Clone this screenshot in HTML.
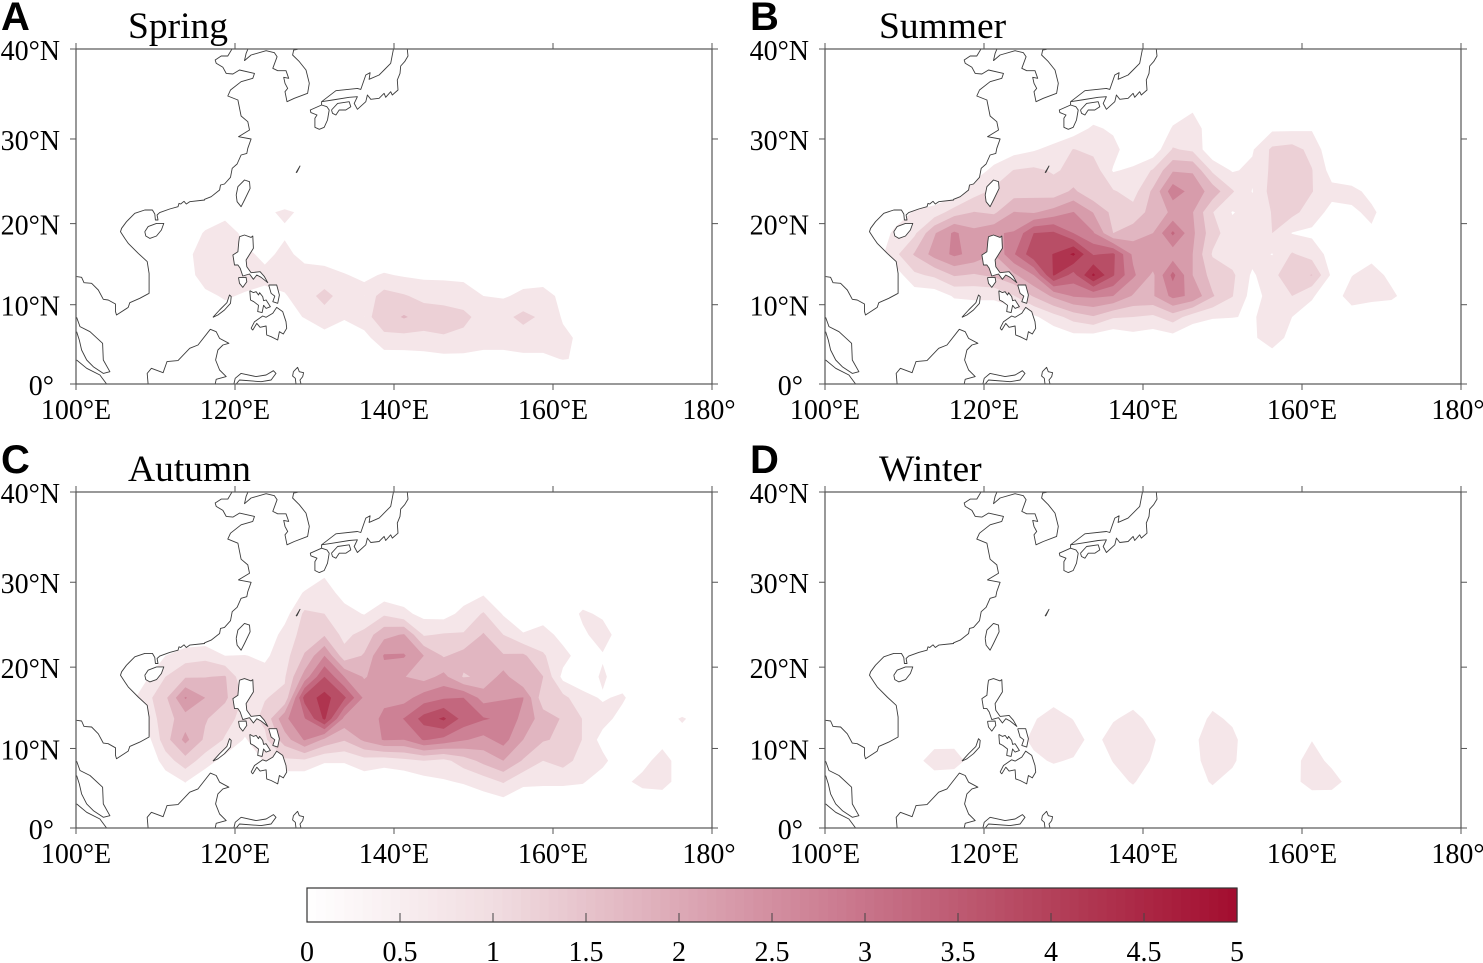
<!DOCTYPE html>
<html lang="en">
<head>
<meta charset="utf-8">
<title>Seasonal maps over the western North Pacific</title>
<style>
html,body{margin:0;padding:0;background:#fff;}
#figure{display:block;width:1483px;height:963px;}
text{font-family:"Liberation Serif",serif;fill:#000;}
.letter{font-family:"Liberation Sans",sans-serif;font-weight:bold;font-size:40px;}
</style>
</head>
<body>
<svg id="figure" xmlns="http://www.w3.org/2000/svg" width="1483" height="963" viewBox="0 0 1483 963"></svg>
<script>
/* ---------- axis data ---------- */
const xTickValues = [100,120,140,160,180];
const xTickLabels = ['100°E','120°E','140°E','160°E','180°'];
const yTickValues = [0,10,20,30,40];
const yTickLabels = ['0°','10°N','20°N','30°N','40°N'];
const colorbarTickValues = [0,0.5,1,1.5,2,2.5,3,3.5,4,4.5,5];
const colorbarTickLabels = ['0','0.5','1','1.5','2','2.5','3','3.5','4','4.5','5'];
const contourLevels = [0.5,1,1.5,2,2.5,3,3.5,4,4.5];

/* ---------- grid coordinates ---------- */
const gridLons = [101.25,103.75,106.25,108.75,111.25,113.75,116.25,118.75,121.25,123.75,126.25,128.75,131.25,133.75,136.25,138.75,141.25,143.75,146.25,148.75,151.25,153.75,156.25,158.75,161.25,163.75,166.25,168.75,171.25,173.75,176.25,178.75];
const gridLats = [38.17,35.91,33.57,31.2,28.79,26.35,23.87,21.37,18.84,16.27,13.69,11.09,8.46,5.83,3.17,0.53];

/* ---------- values, one row per latitude (north to south), one entry per longitude; short rows end in zeros ---------- */
const springValues = [
[],[],[],[],[],[],
[0,0,0,0,0, 0,0,0,0,0, .17],
[0,0,0,0,0, 0,.2,.3,.3,.44, .555,.44,.2],
[0,0,0,0,0, .2,.55,.8,.35,.3, .45,.3,.1],
[0,0,0,0,0, .35,.75,.8,.6,.4, .6,.38,.25,.2,.15, .1],
[0,0,0,0,0, .3,.7,.8,.7,.6, .75,.65,.7,.53,.4, .55,.45,.4,.4,.35, .25,.25,.3,.3,.2],
[0,0,0,0,0, .1,.4,.55,.45,.4, .45,.8,1.15,.8,.7, 1.2,1.05,.85,.8,.8, .5,.45,.6,.65,.4, .1],
[0,0,0,0,0, 0,.1,.3,.3,.3, .35,.52,.8,.55,.85, 1.25,1.55,1.3,1.25,1.1, .85,.85,1.15,.9,.45, .25],
[0,0,0,0,0, 0,0,0,0,0, 0,.2,.3,.2,.3, .9,.85,.85,.95,.9, .7,.7,.75,.75,.6, .4],
[0,0,0,0,0, 0,0,0,0,0, 0,0,0,0,.05, .2,.25,.3,.35,.35, .35,.35,.4,.4,.52, .45,.1],
[]
];
const summerValues = [
[],[],
[0,0,0,0,0, 0,0,0,0,0, 0,0,0,.05,0, 0,0,.2,.42],
[0,0,0,0,0, 0,0,0,0,0, 0,.1,.2,.6,.4, .05,0,.55,.75,.2, 0,.1,.4,.4,.45, .1],
[0,0,0,0,0, 0,0,0,.1,.3, .45,.65,1.02,.85,.7, .1,.15,1.05,.9,.1, 0,.45,1.1,1.2,.85, .1],
[0,0,0,0,0, 0,0,.2,.65,1.02, 1.1,.95,1.1,1.3,.45, .6,1.05,1.95,1.95,.9, .45,.6,1.1,1.45,1.02, .3,.1],
[0,0,0,0,.1, .1,.2,.8,1.1,1.25, 1.3,1.2,1.6,1.1,1.05, .8,1.6,2.8,2.3,1.8, 1.05,.48,1.2,1.4,1.02, .65,.65,.35,.1],
[0,0,0,.2,.55, .7,1.25,1.52,1.4,2.02, 1.95,2.2,2.52,1.98,1.35, 1.2,1.7,2.1,2.02,1.02, .47,.7,1.02,1.15,.75, .35,.42,.6,.2],
[0,0,.1,.6,.9, 1.95,2.6,2.15,2.45,2.55, 3.5,3.6,3.0,2.55,1.5, 1.75,2.0,3.1,2.1,1.2, .7,.7,1.0,.48,.4, .15,.15,.42,.1],
[0,0,.2,.85,1.55, 2.2,2.6,2.35,2.0,2.95, 3.85,4.01,4.6,3.45,3.6, 2.4,2.45,2.2,2.0,.95, .7,.7,.48,1.05,.8, .3,.1,.3],
[0,0,0,.2,.9, 1.1,1.55,1.45,1.6,1.9, 2.5,4.05,3.3,4.6,3.55, 2.6,1.9,3.15,2.0,1.3, 1.1,.42,.85,1.35,1.52, .4,.48,.75,.35,.05],
[0,0,0,0,.2, .2,.55,.6,.6,.98, 1.55,2.1,2.55,2.6,2.5, 1.95,1.95,2.65,2.4,1.55, 1.02,.3,.7,1.0,.55, .2,.75,.7,.62,.2],
[0,0,0,0,0, 0,.1,.1,.1,.05, .4,.8,1.2,1.45,1.05, 1.0,.9,1.25,.75,.55, .52,.45,.7,.5,.3, 0,.2],
[0,0,0,0,0, 0,0,0,0,0, 0,.1,.3,.25,.1, .3,.2,.3,0,0, 0,.4,.8,.3,.1],
[0,0,0,0,0, 0,0,0,0,0, 0,0,0,0,0, 0,0,0,0,0, 0,.1,.2],
[]
];
const autumnValues = [
[],[],[],
[0,0,0,0,0, 0,0,0,0,0, 0,0,.4],
[0,0,0,0,0, 0,0,0,0,0, .1,.55,.75,.3,.1, .2,.25,.1,.1,.25, .42,.1,0,0,0, .1],
[0,0,0,0,0, 0,0,0,0,0, .3,1.1,1.0,.7,.47, .92,.62,.35,.3,.65, 1.05,.45,.1,.2,.1, .6,.4,.1],
[0,0,0,0,.1, .1,.1,.1,0,.1, .7,1.2,1.45,.85,1.2, 1.85,2.05,.95,1.05,1.05, 1.55,1.0,.55,.75,.3, .4,.75,.2],
[0,0,0,.1,.5, .75,.85,.5,.52,.4, .8,1.55,2.5,1.2,1.55, 2.55,2.55,2.0,1.45,1.7, 1.9,1.55,1.6,1.05,.7, .2,.45,.1],
[0,0,0,.4,1.0, 1.45,1.48,1.55,.55,.7, .95,2.2,3.5,2.5,1.95, 2.3,2.02,1.8,2.15,1.45, 1.6,2.2,1.51,1.51,.35, .2,.58,.2],
[0,0,.2,.8,1.4, 2.55,2.0,1.6,.9,.98, 1.1,3.7,4.2,3.6,2.4, 2.35,2.3,2.75,2.95,3.0, 2.3,2.45,2.52,1.2,1.15, .65,.45,.58,.1],
[0,0,0,.6,1.3, 1.75,1.55,1.2,.8,1.1, 2.4,2.95,4.1,2.35,2.1, 2.65,3.02,3.7,4.1,3.3, 3.05,2.9,2.35,1.75,1.45, .98,.7,.3,0,.3, .55,.3],
[0,0,0,.2,1.3, 2.15,1.4,.95,.45,.9, 1.75,2.55,1.9,1.55,2.1, 2.55,2.5,3.05,2.85,2.55, 2.35,2.7,2.0,1.55,1.4, .98,.3,.1,.1,.3, .3],
[0,0,0,0,.75, 1.3,.75,.3,.1,.55, .9,.9,.55,.55,.8, .7,.85,1.0,.85,1.25, 1.65,2.0,1.45,1.0,1.2, .8,.65,.1,.3,.75, .2],
[0,0,0,0,.2, .52,.1,0,0,.1, .1,.1,.1,.1,.2, .1,.1,.3,.45,.55, .75,1.05,.6,.6,.6, .55,.2,.35,.68,.75, .2],
[0,0,0,0,0, .1,0,0,0,0, 0,0,0,0,0, 0,0,0,.05,.1, .2,.3,.2,.1,.1, .05,0,0,.1,.1],
[]
];
const winterValues = [
[],[],[],[],[],[],[],[],[],
[0,0,0,0,0, 0,0,0,0,0, .1,.3,.1,0,.1, .3,.1,0,0,.3, .1],
[0,0,0,0,0, 0,0,0,0,.1, .45,.75,.48,.2,.45, .65,.35,.1,.2,.62, .4,.1],
[0,0,0,0,.05, .3,.35,.1,0,.3, .6,.85,.75,.3,.75, .85,.55,.2,.35,.85, .65,.1,0,.1,.48, .2],
[0,0,0,0,.3, .75,.7,.3,0,.2, .4,.55,.45,.2,.52, .75,.45,.1,.3,.8, .6,.1,0,.3,.75, .35,.1],
[0,0,0,0,.05, .2,.2,0,0,0, 0,.2,.1,0,.3, .55,.2,0,.3,.55, .3,0,0,.35,.7, .75,.25],
[0,0,0,0,0, 0,0,0,0,0, 0,0,0,0,0, .2,0,0,0,.25, 0,0,0,0,.2, .1],
[]
];

/* ---------- coastlines: [longitude, map-height fraction expressed on a 0-40 linear scale] ---------- */
const coastMainland = [[119.6,39.96],[119.1,39.16],[118.27,39.16],[117.51,38.69],[117.64,38.29],[118.48,37.81],[118.89,37.09],[119.73,37.01],[120.57,37.49],[122.45,37.09],[122.24,36.5],[120.77,36.1],[119.44,35.1],[119.1,34.39],[120.36,33.91],[120.77,32.0],[121.61,31.32],[121.82,30.33],[120.44,29.53],[122.03,29.25],[121.61,28.14],[121.49,27.54],[120.77,27.34],[120.27,26.27],[119.65,25.75],[119.44,24.68],[118.68,23.88],[118.18,23.76],[118.06,23.16],[117.01,22.37],[116.18,22.05],[116.18,21.97],[114.3,21.77],[113.88,21.49],[113.58,21.81],[113.17,21.49],[112.96,21.57],[112.83,21.17],[111.79,20.9],[110.53,20.46],[110.2,20.18],[110.32,19.58],[109.99,19.58],[109.91,20.3],[109.61,20.78],[108.65,20.78],[107.4,20.38],[106.35,19.38],[105.73,18.59],[105.6,18.19],[106.14,17.39],[106.56,16.8],[107.82,15.6],[108.95,14.61],[109.2,13.21],[109.2,10.83],[108.03,10.23],[106.77,9.71],[106.56,9.15],[105.1,8.24],[104.97,8.64],[104.97,9.55],[104.05,10.03],[103.43,10.11],[102.8,11.22],[101.96,12.02],[101.0,12.1],[100.71,12.74],[100.08,12.82]];
const coastKorea = [[121.61,39.96],[121.4,39.48],[121.19,38.61],[122.03,39.28],[123.91,39.8],[124.95,39.56],[125.29,39.08],[124.75,37.69],[125.37,37.41],[126.42,37.41],[126.75,36.5],[126.13,36.62],[126.29,35.9],[126.63,35.3],[126.29,34.9],[126.54,33.71],[127.46,34.11],[129.13,34.71],[129.34,35.9],[128.93,37.49],[128.09,38.49],[127.25,39.28],[127.38,39.88],[127.88,39.96]];
const coastHonshu = [[139.92,39.96],[139.58,38.29],[138.75,37.49],[138.12,36.89],[136.87,36.38],[136.99,37.17],[136.45,36.89],[135.82,35.18],[135.4,35.3],[132.69,35.02],[130.89,33.71],[132.27,33.91],[134.36,34.23],[135.4,34.31],[134.99,33.51],[135.4,32.8],[136.45,33.71],[136.66,34.51],[137.08,33.99],[138.12,34.11],[138.75,34.71],[138.96,34.23],[139.58,34.9],[139.79,34.51],[140.5,35.1],[140.42,36.3],[140.76,37.09],[140.84,37.97],[141.34,38.49],[141.76,39.16],[141.67,39.96]];
const coastKyushu = [[130.89,33.71],[130.89,33.31],[131.56,33.11],[131.85,32.72],[131.64,31.52],[131.22,30.65],[130.6,30.41],[130.05,30.65],[130.05,31.72],[130.31,32.12],[129.55,32.4],[129.47,32.72],[130.89,33.31]];
const coastShikoku = [[132.14,32.72],[132.9,33.51],[134.36,33.71],[134.57,33.11],[133.94,32.72],[133.11,32.72],[132.69,32.12],[132.27,32.32],[132.14,32.72]];
const coastOkinawa = [[127.67,25.23],[128.17,26.03],[127.8,25.3],[127.67,25.23]];
const coastTaiwan = [[120.15,22.57],[120.36,23.56],[121.19,24.36],[121.82,24.16],[121.9,23.36],[121.19,21.97],[120.77,21.17],[120.27,21.77],[120.15,22.57]];
const coastHainan = [[108.65,18.19],[109.07,18.79],[110.12,19.18],[111.04,19.18],[110.74,18.39],[110.12,17.67],[109.28,17.39],[108.78,17.67],[108.65,18.19]];
const coastLuzon = [[120.57,17.59],[121.19,17.79],[122.03,17.51],[122.24,17.67],[122.32,16.2],[121.4,14.81],[121.49,14.01],[122.03,13.29],[123.16,13.41],[123.7,12.82],[124.12,12.1],[123.28,12.74],[122.74,13.01],[122.32,12.5],[121.82,13.13],[120.98,12.9],[120.65,13.81],[120.36,14.21],[119.94,14.21],[119.73,15.4],[120.36,15.8],[120.48,16.99],[120.57,17.59]];
const coastMindoro = [[120.44,12.7],[121.4,12.74],[121.49,12.22],[120.98,11.54],[120.57,12.02],[120.44,12.7]];
const coastPalawan = [[117.22,7.96],[118.06,8.84],[118.98,9.71],[119.31,10.63],[119.52,10.43],[119.44,9.63],[118.68,8.84],[117.85,8.24],[117.22,7.96]];
const coastPanay = [[121.86,11.14],[122.32,10.91],[122.66,11.02],[122.95,10.63],[123.1,10.9],[123.49,10.43],[123.6,9.95],[123.91,10.03],[124.45,9.23],[123.91,9.03],[123.6,9.4],[123.41,8.52],[122.86,8.64],[122.95,9.4],[122.36,9.83],[121.95,10.03],[121.86,11.14]];
const coastSamar = [[124.24,11.82],[125.25,11.82],[125.58,10.63],[125.37,9.63],[124.75,9.83],[125.0,10.5],[124.54,10.83],[124.24,11.82]];
const coastMindanao = [[122.03,6.65],[122.45,7.44],[123.49,8.12],[123.91,7.96],[124.75,8.44],[125.25,9.15],[126.0,8.64],[126.42,7.44],[126.5,6.65],[126.08,5.97],[125.58,6.25],[125.37,5.25],[124.54,5.65],[123.99,5.85],[123.91,6.93],[123.16,6.77],[122.74,7.24],[122.24,6.45],[122.03,6.65]];
const coastBorneo = [[109.07,0],[108.95,1.27],[109.49,1.87],[110.95,1.35],[111.45,2.67],[112.83,2.79],[114.3,4.26],[115.34,4.66],[116.89,6.53],[117.64,6.25],[118.06,5.45],[119.23,4.86],[118.48,4.66],[117.85,4.06],[117.56,2.87],[118.06,1.67],[118.89,.88],[117.64,.56],[117.51,0]];
const coastSulawesi = [[119.86,0],[120.02,.68],[120.77,1.27],[122.66,.88],[123.91,1.07],[124.83,1.59],[125.16,1.27],[124.54,.48],[123.28,.28],[120.57,.48],[120.15,0]];
const coastHalmahera = [[127.34,1.47],[127.88,1.99],[128.09,1.47],[128.63,1.35],[128.51,.88],[128.17,.48],[128.3,0],[127.67,0],[127.59,.68],[127.25,.96],[127.34,1.47]];
const coastMalay = [[100.08,7.96],[100.5,6.85],[101.76,6.25],[103.34,4.86],[103.43,2.87],[104.26,1.47],[103.43,1.27],[102.17,2.07],[101.34,2.87],[100.71,4.06],[100.42,5.25],[100.08,6.25]];
const coastSumatra = [[100.08,2.87],[101.34,1.87],[103.01,1.07],[103.85,0]];

const coastlines = [coastMainland,coastKorea,coastHonshu,coastKyushu,coastShikoku,coastOkinawa,coastTaiwan,coastHainan,coastLuzon,coastMindoro,coastPalawan,coastPanay,coastSamar,coastMindanao,coastBorneo,coastSulawesi,coastHalmahera,coastMalay,coastSumatra];

const panels = [
  {key:'spring', letter:'A', title:'Spring', values:springValues, left:76,  top:49,  bottom:384},
  {key:'summer', letter:'B', title:'Summer', values:summerValues, left:825, top:49,  bottom:384},
  {key:'autumn', letter:'C', title:'Autumn', values:autumnValues, left:76,  top:492, bottom:828},
  {key:'winter', letter:'D', title:'Winter', values:winterValues, left:825, top:492, bottom:828}
];

/* ---------- helpers ---------- */
const SVGNS = 'http://www.w3.org/2000/svg';
const svg = document.getElementById('figure');
const panelWidth = 636;
const frameColor = '#555';

function make(tag, parent, attrs){
  const e = document.createElementNS(SVGNS, tag);
  for (const k in attrs) e.setAttribute(k, attrs[k]);
  parent.appendChild(e);
  return e;
}
const colorStops = [[0,[255,255,255]],[0.5,[248,238,240]],[1,[241,221,225]],[2,[220,169,182]],[3,[200,116,138]],[4,[179,65,90]],[5,[163,13,47]]];
function colorFor(v){
  for (let k = 0; k < colorStops.length - 1; k++){
    const a = colorStops[k], b = colorStops[k+1];
    if (v <= b[0]){
      const t = (v - a[0]) / (b[0] - a[0]);
      return 'rgb(' + a[1].map((c,n) => Math.round(c + (b[1][n]-c)*t)).join(',') + ')';
    }
  }
  return 'rgb(163,13,47)';
}
function levelPath(values, level, xScale, yScale){
  let d = '';
  const val = (r,c) => (values[r] && values[r][c]) || 0;
  const toPath = pts => 'M' + pts.map(p => xScale(p[0]).toFixed(2) + ' ' + yScale(p[1]).toFixed(2)).join('L') + 'Z';
  for (let r = 0; r < gridLats.length - 1; r++){
    for (let c = 0; c < gridLons.length - 1; c++){
      const corners = [[c,r],[c+1,r],[c+1,r+1],[c,r+1]];
      const v = corners.map(p => val(p[1],p[0]));
      const pos = corners.map(p => [gridLons[p[0]], gridLats[p[1]]]);
      const cross = function(k){
        const n = (k+1)%4;
        const t = (level - v[k]) / (v[n] - v[k]);
        return [pos[k][0] + (pos[n][0]-pos[k][0])*t, pos[k][1] + (pos[n][1]-pos[k][1])*t];
      };
      const hi = v.map(x => x >= level);
      const saddle = hi[0] === hi[2] && hi[1] === hi[3] && hi[0] !== hi[1];
      if (saddle && (v[0]+v[1]+v[2]+v[3])/4 < level){
        for (let k = 0; k < 4; k++){
          if (hi[k]) d += toPath([cross((k+3)%4), pos[k], cross(k)]);
        }
        continue;
      }
      const pts = [];
      for (let k = 0; k < 4; k++){
        if (hi[k]) pts.push(pos[k]);
        if (hi[k] !== hi[(k+1)%4]) pts.push(cross(k));
      }
      if (pts.length >= 3) d += toPath(pts);
    }
  }
  return d;
}

/* ---------- panels ---------- */
panels.forEach(function(panel){
  const plotHeight = panel.bottom - panel.top;
  const xScale = lon => panel.left + (lon - 100) * panelWidth / 80;
  const yScale = lat => panel.bottom - (7.9 * lat + 0.000297 * lat * lat * lat) * plotHeight / 335;
  const coastY = h => panel.bottom - h * plotHeight / 40;
  const g = make('g', svg, {});
  
  

  const clip = make('clipPath', g, {id:'clip-' + panel.key});
  make('rect', clip, {x:panel.left, y:panel.top, width:panelWidth, height:plotHeight});

  const contours = make('g', g, {'clip-path':'url(#clip-' + panel.key + ')'});
  
  
  contourLevels.forEach(function(level){
    const d = levelPath(panel.values, level, xScale, yScale);
    if (!d) return;
    const band = make('path', contours, {d:d, fill:colorFor(level + 0.25)});
    
    
  });

  const coast = make('g', g, {'clip-path':'url(#clip-' + panel.key + ')'});
  
  
  coastlines.forEach(function(line){
    const d = 'M' + line.map(p => xScale(p[0]).toFixed(1) + ' ' + coastY(p[1]).toFixed(1)).join('L');
    const land = make('path', coast, {d:d, fill:'#fff', stroke:'#3c3c3c', 'stroke-width':0.9, 'stroke-linejoin':'round'});
    
    
  });

  const frame = make('rect', g, {x:panel.left, y:panel.top, width:panelWidth, height:plotHeight, fill:'none', stroke:frameColor, 'stroke-width':1.2});
  
  

  xTickValues.forEach(function(v, n){
    const x = xScale(v);
    const bottomTick = make('line', g, {x1:x, x2:x, y1:panel.bottom, y2:panel.bottom + 6, stroke:frameColor, 'stroke-width':1});
    
    
    const topTick = make('line', g, {x1:x, x2:x, y1:panel.top, y2:panel.top - 6, stroke:frameColor, 'stroke-width':1});
    
    
    const label = make('text', g, {x:(v === 180 ? x - 3 : x), y:panel.bottom + 35, 'text-anchor':'middle', 'font-size':28});
    
    
    label.textContent = xTickLabels[n];
  });
  yTickValues.forEach(function(v, n){
    const y = yScale(v);
    const leftTick = make('line', g, {x1:panel.left - 6, x2:panel.left, y1:y, y2:y, stroke:frameColor, 'stroke-width':1});
    
    
    const rightTick = make('line', g, {x1:panel.left + panelWidth, x2:panel.left + panelWidth + 6, y1:y, y2:y, stroke:frameColor, 'stroke-width':1});
    
    
    const label = make('text', g, {x:panel.left - (v === 0 ? 22 : 16), y:y + 11, 'text-anchor':'end', 'font-size':28});
    
    
    label.textContent = yTickLabels[n];
  });

  const letter = make('text', g, {x:panel.left - 75, y:panel.top - 19, 'class':'letter'});
  
  
  letter.textContent = panel.letter;

  const title = make('text', g, {x:panel.left + (panel.left > 100 ? 54 : 52), y:panel.top - 11, 'font-size':37.5});
  
  
  title.textContent = panel.title;
});

/* ---------- colorbar ---------- */
(function(){
  const barLeft = 307, barRight = 1237, barTop = 888, barBottom = 922;
  const cbScale = v => barLeft + v * (barRight - barLeft) / 5;
  const g = make('g', svg, {});
  
  
  const steps = 100;
  for (let s = 0; s < steps; s++){
    const v0 = s * 5 / steps, v1 = (s + 1) * 5 / steps;
    const seg = make('rect', g, {x:cbScale(v0), y:barTop, width:cbScale(v1) - cbScale(v0) + 0.6, height:barBottom - barTop, fill:colorFor((v0 + v1) / 2)});
    
    
  }
  const outline = make('rect', g, {x:barLeft, y:barTop, width:barRight - barLeft, height:barBottom - barTop, fill:'none', stroke:'#333', 'stroke-width':1.2});
  
  
  colorbarTickValues.forEach(function(v, n){
    const x = cbScale(v);
    if (v > 0 && v < 5){
      const tick = make('line', g, {x1:x, x2:x, y1:barBottom - 9, y2:barBottom, stroke:'#444', 'stroke-width':1});
      
      
    }
    const label = make('text', g, {x:x, y:961, 'text-anchor':'middle', 'font-size':28});
    
    
    label.textContent = colorbarTickLabels[n];
  });
})();
</script>
</body>
</html>
